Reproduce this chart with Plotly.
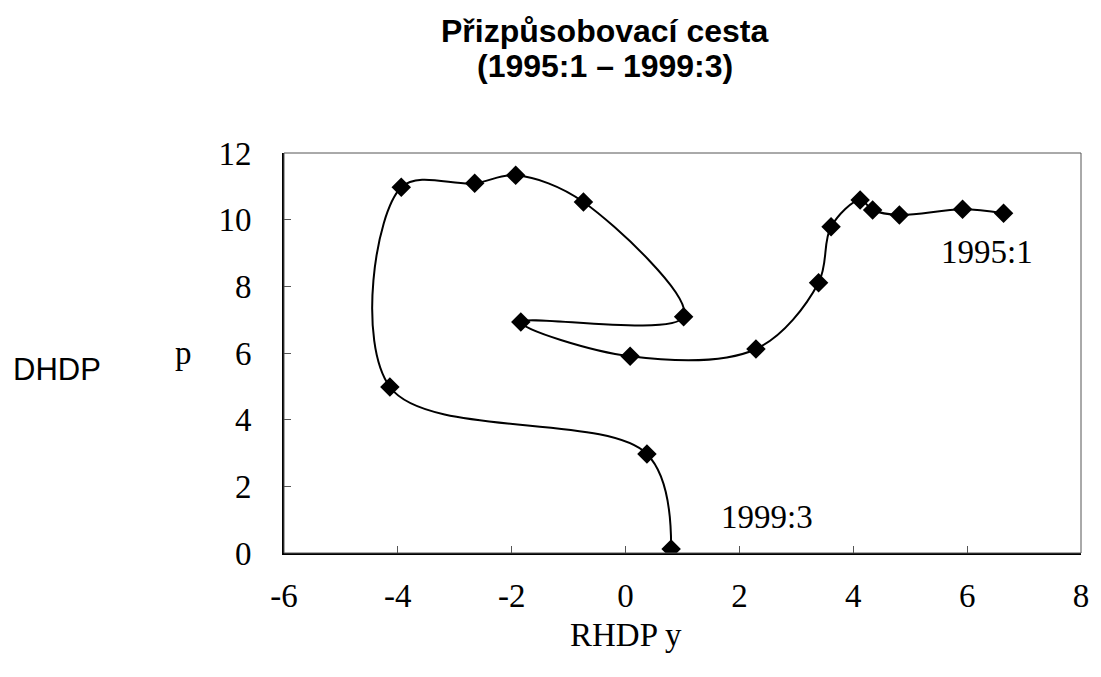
import plotly.graph_objects as go

# adjustment path, quarterly, starting at 1995:1
rhdp_y = [6.64, 5.92, 4.81, 4.34, 4.12, 3.61, 3.39, 2.29, 0.08, -1.84,
          1.02, -0.74, -1.93, -2.65, -3.94, -4.14, 0.375, 0.80]
dhdp_p = [10.19, 10.31, 10.14, 10.29, 10.59, 9.79, 8.11, 6.12, 5.90, 6.93,
          7.09, 10.53, 11.33, 11.09, 10.97, 4.98, 2.97, 0.12]

x_ticks = [-6, -4, -2, 0, 2, 4, 6, 8]
x_tick_text = ["-6", "-4", "-2", "0", "2", "4", "6", "8"]
y_ticks = [0, 2, 4, 6, 8, 10, 12]

SERIF = "Times New Roman, Liberation Serif, serif"
SANS = "Arial, Liberation Sans, sans-serif"

# the page puts the figure 8px in from the top-left corner
W, H = 1093, 669
L, T = 276, 145
R = W - (1087 - 8)
B = H - (553 - 8)

fig = go.Figure()
fig.add_trace(go.Scatter(
    x=rhdp_y, y=dhdp_p,
    mode="lines+markers",
    line=dict(color="black", width=2, shape="spline", smoothing=1),
    marker=dict(symbol="diamond", size=15, color="black"),
    showlegend=False,
))

fig.update_layout(
    width=W, height=H,
    margin=dict(l=L, r=R, t=T, b=B),
    paper_bgcolor="white", plot_bgcolor="white",
    xaxis=dict(range=[-6, 8], tickvals=x_ticks, ticktext=x_tick_text,
               ticks="inside", ticklen=7, tickcolor="#555",
               showgrid=False, zeroline=False,
               showline=True, linecolor="black", linewidth=2,
               tickfont=dict(family=SERIF, size=33, color="black"),
               ticklabelstandoff=12),
    yaxis=dict(range=[0, 12], tickvals=y_ticks, ticks="inside", ticklen=7,
               tickcolor="#555", showgrid=False, zeroline=False,
               showline=True, linecolor="black", linewidth=2,
               tickfont=dict(family=SERIF, size=33, color="black"),
               ticklabelstandoff=24),
    shapes=[dict(type="rect", xref="paper", yref="paper", x0=0, x1=1, y0=0, y1=1,
                 line=dict(color="#555", width=1))],
    annotations=[
        dict(text="<b>Přizpůsobovací cesta</b>", xref="paper", yref="paper",
             x=(607 - 284) / 803, y=1, yshift=T - (31 - 8), yanchor="middle",
             xanchor="center", showarrow=False,
             font=dict(family=SANS, size=32, color="black")),
        dict(text="<b>(1995:1 – 1999:3)</b>", xref="paper", yref="paper",
             x=(607 - 284) / 803, y=1, yshift=T - (66 - 8), yanchor="middle",
             xanchor="center", showarrow=False,
             font=dict(family=SANS, size=32, color="black")),
        dict(text="RHDP y", xref="x", yref="paper", x=0, y=0, yshift=-82,
             xanchor="center", yanchor="middle", showarrow=False,
             font=dict(family=SERIF, size=33, color="black")),
        dict(text="p", xref="paper", yref="y", x=0, xshift=-101, y=6.0,
             xanchor="center", showarrow=False,
             font=dict(family=SERIF, size=33, color="black")),
        dict(text="DHDP", xref="paper", yref="y", x=0, xshift=-227, y=5.5,
             xanchor="center", showarrow=False,
             font=dict(family=SANS, size=31, color="black")),
        dict(text="1995:1", x=5.50, y=9.03, xanchor="left", showarrow=False,
             font=dict(family=SERIF, size=33, color="black")),
        dict(text="1999:3", x=1.64, y=1.09, xanchor="left", showarrow=False,
             font=dict(family=SERIF, size=33, color="black")),
    ],
)

fig.write_html("out.html")
